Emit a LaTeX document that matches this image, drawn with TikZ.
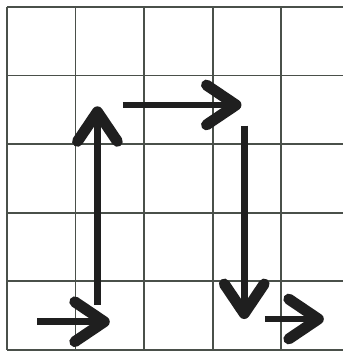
\documentclass[tikz,border=0pt]{standalone}
\usetikzlibrary{arrows.meta}
\definecolor{ink}{HTML}{1F1F1F}
\definecolor{gridc}{HTML}{4A504A}

\begin{document}
\begin{tikzpicture}[
  >={Straight Barb[length=4.3mm,width=5.8mm,line width=1.6mm,round]},
  cell/.style={draw=gridc,line width=0.7pt},
  move/.style={->,draw=ink,line width=1mm},
]
\useasboundingbox (-0.1,-0.06) rectangle (4.9,5.1);

%------------------------------------------------------------------ grid ---
\draw[cell] (0,0) grid (4.9,5);

%---------------------------------------------------------------- points ---
\coordinate (a0) at (0.44,0.41);
\coordinate (a1) at (1.50,0.41);
\coordinate (b0) at (1.32,0.66);
\coordinate (b1) at (1.32,3.55);
\coordinate (c0) at (1.69,3.57);
\coordinate (c1) at (3.42,3.57);
\coordinate (d0) at (3.46,3.27);
\coordinate (d1) at (3.46,0.45);
\coordinate (e0) at (3.76,0.45);
\coordinate (e1) at (4.62,0.45);

%---------------------------------------------------------------- arrows ---
\foreach \s/\t in {a0/a1, b0/b1, c0/c1, d0/d1, e0/e1}{
  \draw[move] (\s) -- (\t);}

\end{tikzpicture}
\end{document}
